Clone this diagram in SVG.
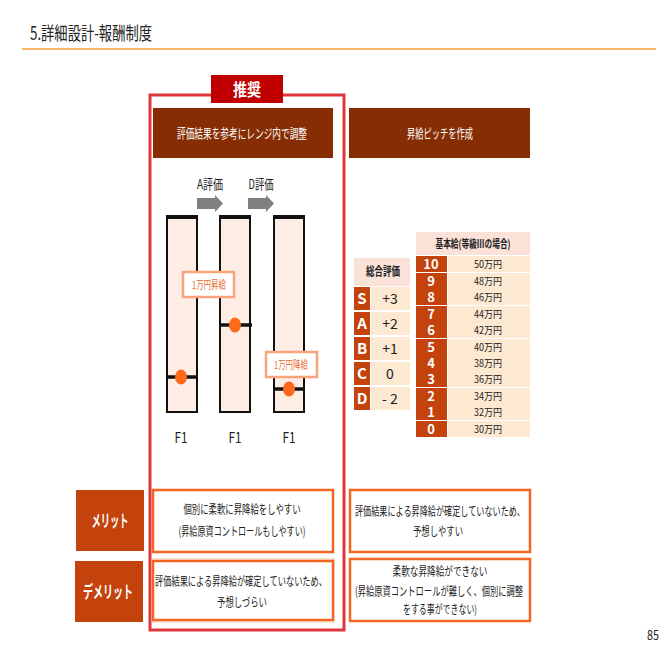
<svg xmlns="http://www.w3.org/2000/svg" width="668" height="668" viewBox="0 0 668 668">
<style>
text{font-family:"Noto Sans CJK JP","Noto Sans",sans-serif;fill:#222;}
.w{fill:#fff;}
.b{font-weight:bold;}
.m{text-anchor:middle;}
.num{font-family:"Liberation Sans","Noto Sans CJK JP",sans-serif;}
.hdr{fill:#862D04;}
.dk{fill:#C4420B;}
.lt{fill:#FDE8D2;}
.pk{fill:#FBE2D8;}
.bar{fill:#FDEDE5;stroke:#111;stroke-width:2;}
.bartop{stroke:#111;stroke-width:4;}
.mark{stroke:#111;stroke-width:3.5;}
.dot{fill:#FF6A1A;}
.tag{fill:#fff;stroke:#F9A47C;stroke-width:2.5;}
.tagt{fill:#EE6A2E;}
.ob{fill:#fff;stroke:#F26522;stroke-width:2.5;}
.arr{fill:#808080;}
</style>
<rect width="668" height="668" fill="#fff"/>
<g id="title">
<text x="30" y="40" font-size="18" textLength="122" lengthAdjust="spacingAndGlyphs">5.詳細設計-報酬制度</text>
<line x1="22" y1="49" x2="656" y2="49" stroke="#F4A235" stroke-width="1.5"/>
</g>
<g id="recommended-frame">
<rect x="150" y="95" width="194" height="535" fill="none" stroke="#E0373C" stroke-width="3"/>
<rect x="211" y="75" width="72" height="28" fill="#C00000"/>
<text class="w b m" x="247" y="96" font-size="17" textLength="28" lengthAdjust="spacingAndGlyphs">推奨</text>
</g>
<g id="header-left">
<rect class="hdr" x="153" y="108" width="180" height="50"/>
<text class="w m" x="242" y="138" font-size="13" textLength="130" lengthAdjust="spacingAndGlyphs">評価結果を参考にレンジ内で調整</text>
</g>
<g id="header-right">
<rect class="hdr" x="349" y="108" width="181" height="50"/>
<text class="w m" x="440" y="138" font-size="13" textLength="66" lengthAdjust="spacingAndGlyphs">昇給ピッチを作成</text>
</g>
<g id="arrow-a">
<text class="m" x="210" y="189" font-size="13" textLength="26" lengthAdjust="spacingAndGlyphs">A評価</text>
<polygon class="arr" points="197,198 215,198 215,195 223,203.5 215,212 215,209 197,209"/>
</g>
<g id="arrow-d">
<text class="m" x="261" y="189" font-size="13" textLength="25" lengthAdjust="spacingAndGlyphs">D評価</text>
<polygon class="arr" points="248,198 266,198 266,195 274,203.5 266,212 266,209 248,209"/>
</g>
<g id="bar-1">
<rect class="bar" x="167" y="217" width="30" height="195"/>
<line class="bartop" x1="166" y1="217" x2="198" y2="217"/>
<line class="mark" x1="166" y1="377" x2="198" y2="377"/>
<ellipse class="dot" cx="181" cy="377" rx="6" ry="7.5"/>
<text class="m" x="181" y="443" font-size="15" textLength="13" lengthAdjust="spacingAndGlyphs">F1</text>
</g>
<g id="bar-2">
<rect class="bar" x="220" y="217" width="30" height="195"/>
<line class="bartop" x1="219" y1="217" x2="251" y2="217"/>
<line class="mark" x1="220" y1="325" x2="252" y2="325"/>
<ellipse class="dot" cx="235" cy="325" rx="6" ry="7.5"/>
<text class="m" x="235" y="443" font-size="15" textLength="13" lengthAdjust="spacingAndGlyphs">F1</text>
</g>
<g id="bar-3">
<rect class="bar" x="274" y="217" width="30" height="195"/>
<line class="bartop" x1="273" y1="217" x2="305" y2="217"/>
<line class="mark" x1="273" y1="389" x2="305" y2="389"/>
<ellipse class="dot" cx="289" cy="389" rx="6" ry="7.5"/>
<text class="m" x="289" y="443" font-size="15" textLength="13" lengthAdjust="spacingAndGlyphs">F1</text>
</g>
<g id="tag-raise">
<rect class="tag" x="183" y="272" width="51" height="25"/>
<text class="m tagt" x="209" y="289" font-size="11" textLength="34" lengthAdjust="spacingAndGlyphs">1万円昇給</text>
</g>
<g id="tag-cut">
<rect class="tag" x="266" y="352" width="51" height="25"/>
<text class="m tagt" x="291" y="369" font-size="11" textLength="34" lengthAdjust="spacingAndGlyphs">1万円降給</text>
</g>
<g id="table-eval">
<rect class="pk" x="354" y="258" width="56" height="28"/>
<text class="b m" x="383" y="276" font-size="12" textLength="34" lengthAdjust="spacingAndGlyphs">総合評価</text>
<rect class="dk" x="354" y="287" width="16" height="23"/>
<rect class="lt" x="371" y="287" width="39" height="23"/>
<rect class="dk" x="354" y="312" width="16" height="23"/>
<rect class="lt" x="371" y="312" width="39" height="23"/>
<rect class="dk" x="354" y="337" width="16" height="23"/>
<rect class="lt" x="371" y="337" width="39" height="23"/>
<rect class="dk" x="354" y="362" width="16" height="23"/>
<rect class="lt" x="371" y="362" width="39" height="23"/>
<rect class="dk" x="354" y="387" width="16" height="23"/>
<rect class="lt" x="371" y="387" width="39" height="23"/>
<g class="b" font-size="15">
<text class="w m" x="362" y="304">S</text>
<text class="w m" x="362" y="329">A</text>
<text class="w m" x="362" y="354">B</text>
<text class="w m" x="362" y="379">C</text>
<text class="w m" x="362" y="404">D</text>
</g>
<g font-size="14">
<text class="m" x="390" y="304">+3</text>
<text class="m" x="390" y="329">+2</text>
<text class="m" x="390" y="354">+1</text>
<text class="m" x="390" y="379">0</text>
<text class="m" x="390" y="404">- 2</text>
</g>
</g>
<g id="table-salary">
<rect class="pk" x="416" y="232" width="114" height="23"/>
<text class="b m" x="473" y="248" font-size="11" textLength="75" lengthAdjust="spacingAndGlyphs">基本給(等級Ⅲの場合)</text>
<rect class="dk" x="416" y="256" width="31" height="16"/>
<rect class="lt" x="448" y="256" width="82" height="16"/>
<rect class="dk" x="416" y="273" width="31" height="32"/>
<rect class="lt" x="448" y="273" width="82" height="32"/>
<rect class="dk" x="416" y="306" width="31" height="32"/>
<rect class="lt" x="448" y="306" width="82" height="32"/>
<rect class="dk" x="416" y="339" width="31" height="48"/>
<rect class="lt" x="448" y="339" width="82" height="48"/>
<rect class="dk" x="416" y="388" width="31" height="32"/>
<rect class="lt" x="448" y="388" width="82" height="32"/>
<rect class="dk" x="416" y="421" width="31" height="16"/>
<rect class="lt" x="448" y="421" width="82" height="16"/>
<g class="b num" font-size="13">
<text class="w m" x="431" y="269">10</text>
<text class="w m" x="431" y="286">9</text>
<text class="w m" x="431" y="302">8</text>
<text class="w m" x="431" y="319">7</text>
<text class="w m" x="431" y="335">6</text>
<text class="w m" x="431" y="352">5</text>
<text class="w m" x="431" y="368">4</text>
<text class="w m" x="431" y="384">3</text>
<text class="w m" x="431" y="401">2</text>
<text class="w m" x="431" y="417">1</text>
<text class="w m" x="431" y="434">0</text>
</g>
<g font-size="10">
<text class="m" x="488" y="268" textLength="28" lengthAdjust="spacingAndGlyphs">50万円</text>
<text class="m" x="488" y="285" textLength="28" lengthAdjust="spacingAndGlyphs">48万円</text>
<text class="m" x="488" y="301" textLength="28" lengthAdjust="spacingAndGlyphs">46万円</text>
<text class="m" x="488" y="318" textLength="28" lengthAdjust="spacingAndGlyphs">44万円</text>
<text class="m" x="488" y="334" textLength="28" lengthAdjust="spacingAndGlyphs">42万円</text>
<text class="m" x="488" y="351" textLength="28" lengthAdjust="spacingAndGlyphs">40万円</text>
<text class="m" x="488" y="367" textLength="28" lengthAdjust="spacingAndGlyphs">38万円</text>
<text class="m" x="488" y="383" textLength="28" lengthAdjust="spacingAndGlyphs">36万円</text>
<text class="m" x="488" y="400" textLength="28" lengthAdjust="spacingAndGlyphs">34万円</text>
<text class="m" x="488" y="416" textLength="28" lengthAdjust="spacingAndGlyphs">32万円</text>
<text class="m" x="488" y="433" textLength="28" lengthAdjust="spacingAndGlyphs">30万円</text>
</g>
</g>
<g id="label-merit">
<rect class="dk" x="76" y="490" width="68" height="61"/>
<text class="w b m" x="110" y="527" font-size="17" textLength="37" lengthAdjust="spacingAndGlyphs">メリット</text>
</g>
<g id="label-demerit">
<rect class="dk" x="75" y="561" width="68" height="61"/>
<text class="w b m" x="108" y="598" font-size="17" textLength="50" lengthAdjust="spacingAndGlyphs">デメリット</text>
</g>
<g id="merit-left">
<rect class="ob" x="153" y="490" width="180" height="62"/>
<text class="m" x="242" y="514" font-size="12" textLength="117" lengthAdjust="spacingAndGlyphs">個別に柔軟に昇降給をしやすい</text>
<text class="m" x="242" y="536" font-size="12" textLength="127" lengthAdjust="spacingAndGlyphs">(昇給原資コントロールもしやすい)</text>
</g>
<g id="demerit-left">
<rect x="152" y="559" width="182" height="63" fill="none" stroke="#FBC7A8" stroke-width="1"/>
<rect class="ob" x="153" y="561" width="180" height="59"/>
<text class="m" x="241" y="586" font-size="12" textLength="172" lengthAdjust="spacingAndGlyphs">評価結果による昇降給が確定していないため、</text>
<text class="m" x="242" y="607" font-size="12" textLength="50" lengthAdjust="spacingAndGlyphs">予想しづらい</text>
</g>
<g id="merit-right">
<rect class="ob" x="350" y="490" width="180" height="62"/>
<text class="m" x="440" y="516" font-size="12" textLength="170" lengthAdjust="spacingAndGlyphs">評価結果による昇降給が確定していないため、</text>
<text class="m" x="438" y="536" font-size="12" textLength="50" lengthAdjust="spacingAndGlyphs">予想しやすい</text>
</g>
<g id="demerit-right">
<rect class="ob" x="350" y="559" width="180" height="62"/>
<text class="m" x="440" y="576" font-size="12" textLength="95" lengthAdjust="spacingAndGlyphs">柔軟な昇降給ができない</text>
<text class="m" x="439" y="596" font-size="12" textLength="168" lengthAdjust="spacingAndGlyphs">(昇給原資コントロールが難しく、個別に調整</text>
<text class="m" x="440" y="614" font-size="12" textLength="74" lengthAdjust="spacingAndGlyphs">をする事ができない)</text>
</g>
<g id="page-number">
<text class="m" x="653" y="640" font-size="13" textLength="12" lengthAdjust="spacingAndGlyphs">85</text>
</g>
<g id="connectors"></g>
</svg>
